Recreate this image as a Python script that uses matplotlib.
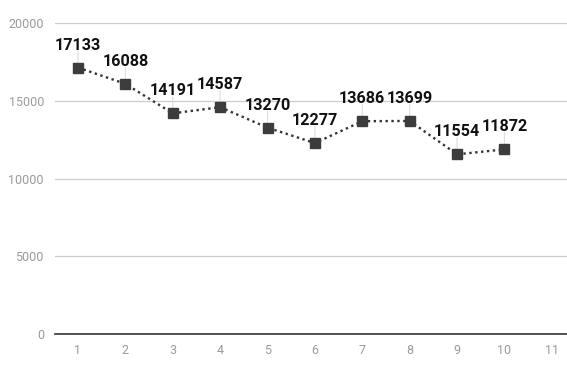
import matplotlib
matplotlib.use("Agg")
import matplotlib.pyplot as plt

x_vals = [1, 2, 3, 4, 5, 6, 7, 8, 9, 10]
y_vals = [17133, 16088, 14191, 14587, 13270, 12277, 13686, 13699, 11554, 11872]
x_ticks = [1, 2, 3, 4, 5, 6, 7, 8, 9, 10, 11]
y_ticks = [0, 5000, 10000, 15000, 20000]

plt.rcParams['font.family'] = ['Roboto', 'DejaVu Sans']

fig = plt.figure(figsize=(5.67, 3.65), dpi=100)
ax = fig.add_axes([55/567, 31/365, 512/567, 311/365])

ax.plot(x_vals, y_vals, linestyle=(0, (1, 1.5)), color='#333333', linewidth=1.7,
        marker='s', markersize=6.5, markerfacecolor='#3c3c3c', markeredgecolor='#3c3c3c', zorder=3)

for xv, yv in zip(x_vals, y_vals):
    ax.annotate(f"{yv}", xy=(xv, yv), xytext=(0, 13), textcoords='offset points',
                ha='center', va='baseline', fontsize=11.6, fontweight='bold', color='#111111',
                annotation_clip=False, zorder=4)
    ax.annotate("", xy=(xv, yv), xytext=(0, 12), textcoords='offset points',
                arrowprops=dict(arrowstyle='-', color='#dddddd', lw=0.8, shrinkA=0, shrinkB=0),
                zorder=2)

ax.set_xlim(0.515, 11.32)
ax.set_ylim(0, 20000)
ax.set_xticks(x_ticks)
ax.set_yticks(y_ticks)
ax.tick_params(axis='both', length=0, labelsize=9, labelcolor='#9a9a9a')
ax.tick_params(axis='y', pad=8)
ax.tick_params(axis='x', pad=7)
ax.grid(axis='y', color='#cccccc', linewidth=0.9)
ax.set_axisbelow(True)
for s in ['top', 'right', 'left']:
    ax.spines[s].set_visible(False)
ax.spines['bottom'].set_color('#333333')
ax.spines['bottom'].set_linewidth(1.2)
ax.spines['bottom'].set_zorder(3)

fig.savefig('out.png', dpi=100)
